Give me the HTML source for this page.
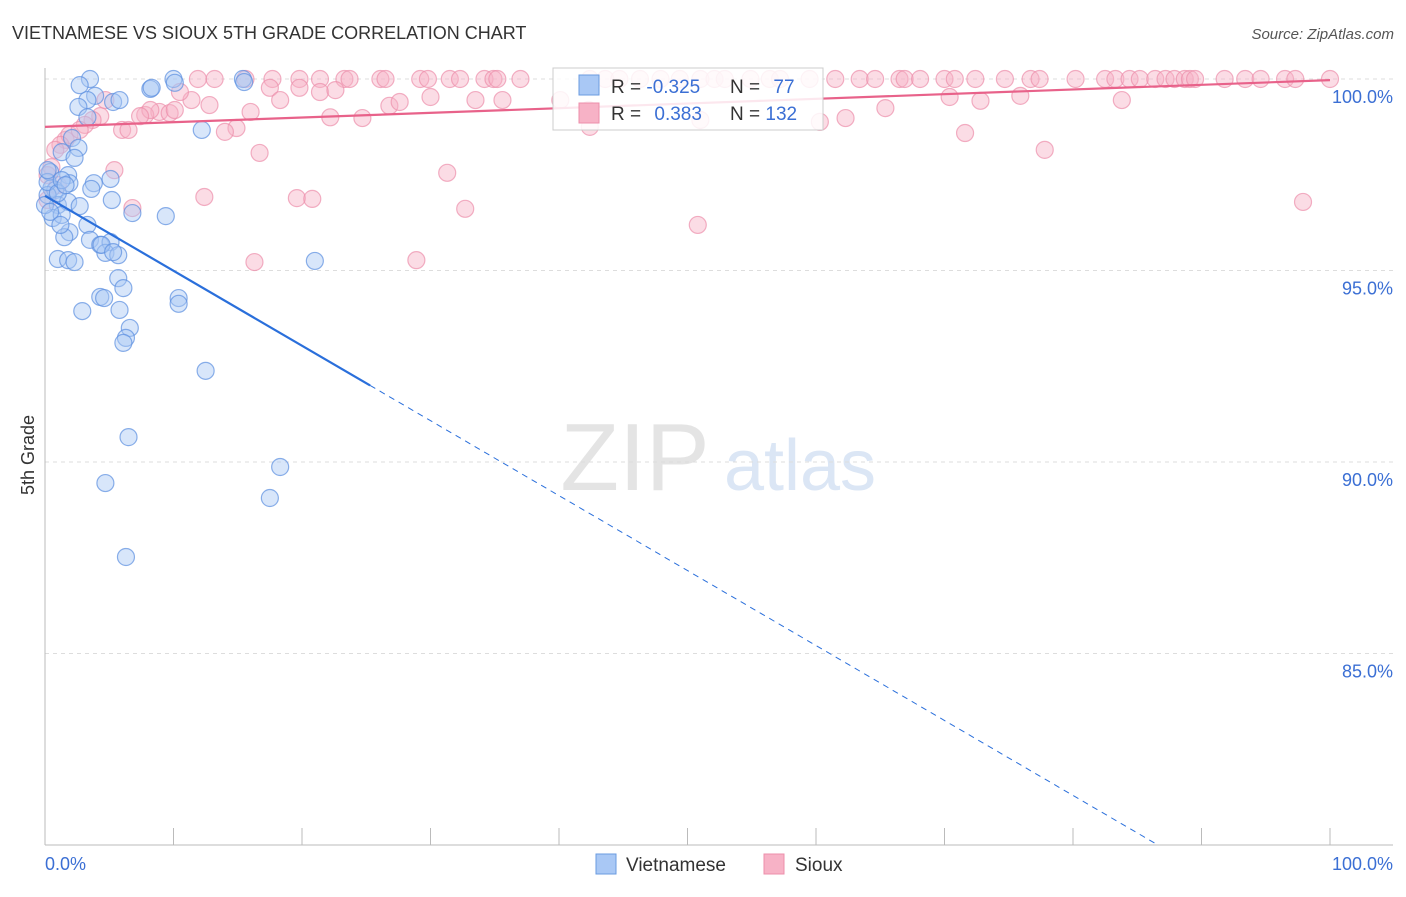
<!DOCTYPE html>
<html><head><meta charset="utf-8"><style>
body{margin:0;background:#fff;font-family:"Liberation Sans",sans-serif}
svg text{font-family:"Liberation Sans",sans-serif}
</style></head><body>
<svg id="c" width="1406" height="892">
<text x="12" y="39" font-size="18" fill="#333">VIETNAMESE VS SIOUX 5TH GRADE CORRELATION CHART</text>
<text x="1394" y="39" font-size="15" fill="#555" font-style="italic" text-anchor="end">Source: ZipAtlas.com</text>
<text x="34" y="455" font-size="18" fill="#333" transform="rotate(-90 34 455)" text-anchor="middle">5th Grade</text>
<g><text x="635" y="490" font-size="96" fill="#e4e4e4" font-family="Liberation Serif" text-anchor="middle">ZIP</text><text x="800" y="490" font-size="72" fill="#dbe6f5" text-anchor="middle">atlas</text></g>
<g id="grid"></g><g id="pts"></g><g id="lines"></g>
<g>
<rect x="553" y="68" width="270" height="62" fill="#fff" fill-opacity="0.85" stroke="#ccc"/>
<rect x="579" y="75" width="20" height="20" fill="#a9c8f5" stroke="#6a9be0"/>
<rect x="579" y="103" width="20" height="20" fill="#f7b2c6" stroke="#ec8fab"/>
<text x="611" y="93" font-size="19" fill="#333">R = <tspan fill="#3b6fd4">-0.325</tspan></text>
<text x="730" y="93" font-size="19" fill="#333">N = <tspan fill="#3b6fd4" dx="8">77</tspan></text>
<text x="611" y="120" font-size="19" fill="#333">R = <tspan fill="#3b6fd4" dx="8">0.383</tspan></text>
<text x="730" y="120" font-size="19" fill="#333">N = <tspan fill="#3b6fd4">132</tspan></text>
</g>
<g>
<rect x="596" y="854" width="20" height="20" fill="#a9c8f5" stroke="#6a9be0"/>
<text x="626" y="871" font-size="19" fill="#333">Vietnamese</text>
<rect x="764" y="854" width="20" height="20" fill="#f7b2c6" stroke="#ec8fab"/>
<text x="795" y="871" font-size="19" fill="#333">Sioux</text>
</g>
<text x="45" y="870" font-size="18" fill="#3b6fd4">0.0%</text>
<text x="1393" y="870" font-size="18" fill="#3b6fd4" text-anchor="end">100.0%</text>
</svg>
<script>
const yTicks=[100,95,90,85];
const yTickLabels=["100.0%","95.0%","90.0%","85.0%"];
const blueX=[3.5,2.7,10.0,15.4,8.2,8.3,3.9,3.3,5.3,2.6,3.3,12.2,2.1,2.6,1.3,2.3,0.4,1.8,5.1,3.8,0.5,0.8,1.9,3.6,0.2,1.0,1.8,2.7,5.2,6.8,9.4,0.6,1.3,3.3,1.9,1.5,3.5,4.3,5.1,4.7,5.7,1.0,1.8,2.3,21.0,5.7,6.1,4.3,4.6,10.4,10.4,2.9,5.8,6.6,6.3,6.1,12.5,6.5,18.3,4.7,17.5,6.3,0,0.2,1.0,1.3,1.6,5.8,10.1,15.5,4.4,5.3,0.2,0.4,1.2];
const blueY=[100,99.84,100,100,99.74,99.77,99.56,99.45,99.4,99.27,99.0,98.67,98.46,98.2,98.09,97.94,97.57,97.49,97.39,97.28,97.15,97.1,97.28,97.13,96.97,96.71,96.79,96.68,96.84,96.5,96.42,96.37,96.45,96.19,96.0,95.87,95.8,95.67,95.74,95.46,95.4,95.3,95.27,95.22,95.25,94.8,94.54,94.31,94.28,94.28,94.13,93.94,93.97,93.5,93.24,93.11,92.38,90.65,89.87,89.45,89.06,87.52,96.71,97.31,97.02,97.36,97.23,99.45,99.9,99.92,95.67,95.48,97.62,96.53,96.19];
const pinkTopX=[11.9,13.2,15.6,17.7,19.8,21.4,23.3,23.7,26.1,26.5,29.2,29.8,31.5,32.3,34.2,34.9,35.2,37.0,42.4,43.6,44.7,46.3,47.9,49.4,51.0,52.1,52.9,54.9,56.4,57.2,59.5,61.5,63.4,64.6,66.5,66.9,68.1,70.0,70.8,72.4,74.7,76.7,77.4,80.2,82.5,83.3,84.4,85.2,86.4,87.2,87.9,88.7,89.1,89.5,91.8,93.4,94.6,96.5,97.3,100];
const pinkX=[17.5,19.8,21.4,22.6,30.0,33.5,35.6,42.3,42.4,60.3,62.3,65.4,70.4,72.8,75.9,83.8,71.6,77.8,97.9,50.8,31.3,32.7,28.9,16.3,19.6,20.8,12.4,5.4,6.8,16.7,14.9,14.0,12.8,11.4,10.5,8.9,9.7,7.8,8.2,7.4,6.0,6.5,4.3,3.7,3.1,4.7,1.6,1.9,1.2,0.8,0.5,0.2,1.0,0.2,18.3,22.2,24.7,26.8,27.6,16.0,10.1,2.7,40.1,51.0];
const pinkY=[99.77,99.77,99.66,99.71,99.53,99.45,99.45,99.19,98.75,98.88,98.98,99.24,99.53,99.43,99.56,99.45,98.59,98.15,96.79,96.19,97.55,96.61,95.27,95.22,96.89,96.87,96.92,97.62,96.63,98.07,98.72,98.62,99.32,99.45,99.66,99.14,99.11,99.06,99.19,99.03,98.67,98.67,99.03,98.93,98.8,99.45,98.41,98.54,98.28,98.15,97.7,97.49,97.23,96.84,99.45,99.0,98.98,99.3,99.4,99.14,99.19,98.67,99.45,98.93];
const blueFit=[96.95,-0.1957];
const pinkFit=[98.75,0.0122];
const X0=45,X1=1330,Y0=845,Y1=79;
const sx=v=>X0+(X1-X0)*v/100;
const sy=v=>Y0-(Y0-Y1)*(v-80)/20;
const NS="http://www.w3.org/2000/svg";
function mk(t,a,p){const e=document.createElementNS(NS,t);for(const k in a)e.setAttribute(k,a[k]);p.appendChild(e);return e;}
const g=document.getElementById('grid');
yTicks.forEach((t,i)=>{
const l=mk('line',{x1:X0,x2:1393,y1:sy(t),y2:sy(t),stroke:'#ddd','stroke-dasharray':'4,4'},g);


const tx=mk('text',{x:1393,y:sy(t)+24,'font-size':18,fill:'#3b6fd4','text-anchor':'end'},g);
tx.textContent=yTickLabels[i];


});
const ax=mk('line',{x1:X0,x2:1393,y1:Y0,y2:Y0,stroke:'#bbb'},g);


const ay=mk('line',{x1:X0,x2:X0,y1:68,y2:Y0,stroke:'#bbb'},g);


for(let i=0;i<=10;i++){const tk=mk('line',{x1:sx(i*10),x2:sx(i*10),y1:Y0-17,y2:Y0,stroke:'#bbb'},g);

}
const P=document.getElementById('pts');
function dot(x,y,f,s,n){const c=mk('circle',{cx:sx(x),cy:sy(y),r:8.5,fill:f,'fill-opacity':0.45,stroke:s,'stroke-opacity':0.7,'stroke-width':1.2},P);

}
pinkTopX.forEach(x=>dot(x,100,'#f7b2c6','#ec8fab','sioux-point'));
pinkX.forEach((x,i)=>dot(x,pinkY[i],'#f7b2c6','#ec8fab','sioux-point'));
blueX.forEach((x,i)=>dot(x,blueY[i],'#a9c8f5','#5b8fe0','vietnamese-point'));
const L=document.getElementById('lines');
const bf=x=>blueFit[0]+blueFit[1]*x, pf=x=>pinkFit[0]+pinkFit[1]*x;
const xe=(80-blueFit[0])/blueFit[1];
const b1=mk('line',{x1:sx(0),y1:sy(bf(0)),x2:sx(25.3),y2:sy(bf(25.3)),stroke:'#2a6fdb','stroke-width':2.2},L);


const b2=mk('line',{x1:sx(25.3),y1:sy(bf(25.3)),x2:sx(xe),y2:sy(80),stroke:'#2a6fdb','stroke-width':1,'stroke-dasharray':'6,5'},L);


const p1=mk('line',{x1:sx(0),y1:sy(pf(0)),x2:sx(100),y2:sy(pf(100)),stroke:'#e8628a','stroke-width':2.2},L);


</script>
</body></html>
